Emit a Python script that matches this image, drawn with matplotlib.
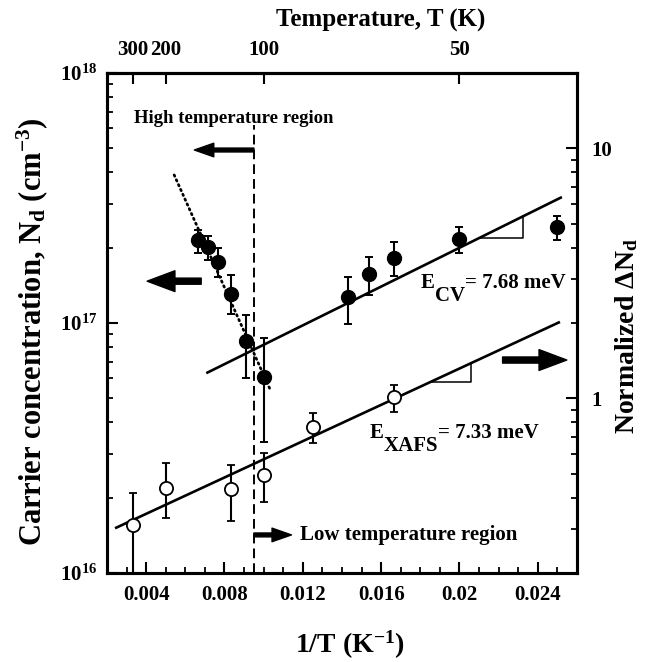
import numpy as np
import matplotlib
matplotlib.use("Agg")
import matplotlib.pyplot as plt
from matplotlib.ticker import FixedLocator, NullLocator, NullFormatter, LogLocator, MultipleLocator

plt.rcParams['font.family'] = 'Liberation Serif'
plt.rcParams['font.weight'] = 'bold'
plt.rcParams['axes.labelweight'] = 'bold'
plt.rcParams['mathtext.fontset'] = 'custom'
plt.rcParams['mathtext.rm'] = 'Liberation Serif:bold'
plt.rcParams['mathtext.it'] = 'Liberation Serif:bold'
plt.rcParams['mathtext.bf'] = 'Liberation Serif:bold'
plt.rcParams['mathtext.default'] = 'rm'

# C-V carrier concentration (filled circles, left axis)
inv_T_cv = [0.00667, 0.00714, 0.00769, 0.00833, 0.00909, 0.0100,
            0.01429, 0.01538, 0.01667, 0.0200, 0.0250]
Nd = [2.15e17, 2.01e17, 1.76e17, 1.31e17, 8.5e16, 6.1e16,
      1.27e17, 1.57e17, 1.82e17, 2.16e17, 2.43e17]
Nd_hi = [2.35e17, 2.23e17, 2.00e17, 1.56e17, 1.08e17, 8.7e16,
         1.53e17, 1.83e17, 2.10e17, 2.43e17, 2.69e17]
Nd_lo = [1.91e17, 1.79e17, 1.53e17, 1.09e17, 6.0e16, 3.34e16,
         9.9e16, 1.29e17, 1.54e17, 1.90e17, 2.15e17]

# XAFS normalized dNd (open circles, right axis)
inv_T_xafs = [0.00333, 0.0050, 0.00833, 0.0100, 0.0125, 0.01667]
dNd = [0.311, 0.439, 0.433, 0.493, 0.769, 1.01]
dNd_hi = [0.419, 0.549, 0.541, 0.602, 0.875, 1.13]
dNd_lo = [0.12, 0.331, 0.323, 0.383, 0.663, 0.88]

# fitted lines (end points)
cv_fit_x = [0.00707, 0.02523]
cv_fit_y = [6.3e16, 3.19e17]
xafs_fit_x = [0.00241, 0.02513]
xafs_fit_y = [0.302, 2.02]
high_T_x = [0.00543, 0.01038]
high_T_y = [3.91e17, 5.31e16]
boundary_x = 0.0095

T_ticks = [300, 200, 100, 50]


def fit_at(x, xs, ys):
    return 10 ** np.interp(x, xs, np.log10(ys))


fig = plt.figure(figsize=(6.55, 6.62), dpi=100)
ax = fig.add_axes([107 / 655, 1 - 573 / 662, 470 / 655, 500 / 662])
axr = ax.twinx()

ax.set_xlim(0.002, 0.026)
ax.set_yscale('log')
ax.set_ylim(1e16, 1e18)
axr.set_yscale('log')
axr.set_ylim(0.2, 20)

# lines
ax.plot(cv_fit_x, cv_fit_y, color='k', lw=1.9, solid_capstyle='butt')
ax.plot(high_T_x, high_T_y, color='k', lw=2, ls=(0, (0.5, 1.4)), dash_capstyle='round')
ax.plot([boundary_x, boundary_x], [1e16, 6.2e17], color='k', lw=1.4, ls=(0, (5, 2.6)))
axr.plot(xafs_fit_x, xafs_fit_y, color='k', lw=1.9, solid_capstyle='butt')

# slope triangles
x0, x1 = 0.02103, 0.02325
y0 = fit_at(x0, cv_fit_x, cv_fit_y)
ax.plot([x0, x1, x1], [y0, y0, fit_at(x1, cv_fit_x, cv_fit_y)], color='k', lw=1.1)
x0, x1 = 0.01848, 0.02061
y0 = fit_at(x0, xafs_fit_x, xafs_fit_y)
axr.plot([x0, x1, x1], [y0, y0, fit_at(x1, xafs_fit_x, xafs_fit_y)], color='k', lw=1.1)

# data points
Nd_a = np.array(Nd)
ax.errorbar(inv_T_cv, Nd, yerr=[Nd_a - np.array(Nd_lo), np.array(Nd_hi) - Nd_a],
            fmt='o', color='k', ms=10, elinewidth=1.5, capsize=2.6, capthick=1.4, zorder=5)
dNd_a = np.array(dNd)
axr.errorbar(inv_T_xafs, dNd, yerr=[dNd_a - np.array(dNd_lo), np.array(dNd_hi) - dNd_a],
             fmt='o', mfc='white', mec='k', color='k', ms=9.5, mew=1.3,
             elinewidth=1.5, capsize=2.6, capthick=1.4, zorder=5)

# arrows
big = dict(arrowstyle='simple,head_length=1.0,head_width=0.75,tail_width=0.22',
           color='k', shrinkA=0, shrinkB=0, mutation_scale=20)
small = dict(arrowstyle='simple,head_length=1.0,head_width=0.7,tail_width=0.2',
             color='k', shrinkA=0, shrinkB=0, mutation_scale=14)
ax.annotate('', xy=(0.00405, 1.47e17), xytext=(0.00681, 1.47e17), arrowprops=big)
ax.annotate('', xy=(0.02548, 7.11e16), xytext=(0.0222, 7.11e16), arrowprops=big)
ax.annotate('', xy=(0.00646, 4.92e17), xytext=(boundary_x, 4.92e17), arrowprops=small)
ax.annotate('', xy=(0.01142, 1.42e16), xytext=(boundary_x, 1.42e16), arrowprops=small)

# region labels
ax.text(0.00339, 6.6e17, 'High temperature region', fontsize=13.5, va='center', ha='left')
ax.text(0.01183, 1.42e16, 'Low temperature region', fontsize=15, va='center', ha='left')

# activation energies
def energy_label(x, y, sub, rest):
    t = ax.text(x, y, 'E', fontsize=15, va='baseline', ha='left')
    s = ax.annotate(sub, xy=(1, 0), xycoords=t, xytext=(0, -9.5), textcoords='offset points',
                    fontsize=15, va='bottom', ha='left')
    ax.annotate(rest, xy=(1, 0), xycoords=(s, t), fontsize=15, va='bottom', ha='left')

energy_label(0.01804, 1.38e17, 'CV', '= 7.68 meV')
energy_label(0.01541, 3.47e16, 'XAFS', '= 7.33 meV')

# ticks
ax.xaxis.set_major_locator(FixedLocator([0.004, 0.008, 0.012, 0.016, 0.02, 0.024]))
ax.set_xticklabels(['0.004', '0.008', '0.012', '0.016', '0.02', '0.024'])
ax.xaxis.set_minor_locator(MultipleLocator(0.001))
ax.yaxis.set_major_locator(LogLocator(base=10))
ax.yaxis.set_minor_locator(LogLocator(base=10, subs=np.arange(2, 10)))
ax.yaxis.set_minor_formatter(NullFormatter())
axr.yaxis.set_major_locator(FixedLocator([1, 10]))
axr.set_yticklabels(['1', '10'])
axr.yaxis.set_minor_locator(LogLocator(base=10, subs=np.arange(2, 10)))
axr.yaxis.set_minor_formatter(NullFormatter())

ax.tick_params(axis='both', which='major', direction='in', length=8, width=1.5, labelsize=15)
ax.tick_params(axis='both', which='minor', direction='in', length=4.5, width=1.3)
ax.tick_params(axis='x', which='major', pad=9)
ax.tick_params(axis='y', which='major', pad=7)
axr.tick_params(axis='y', which='major', direction='in', length=8, width=1.5, labelsize=15, pad=10)
axr.tick_params(axis='y', which='minor', direction='in', length=4.5, width=1.3)

top = ax.secondary_xaxis('top', functions=(lambda x: 1 / x, lambda T: 1 / T))
top.xaxis.set_major_locator(FixedLocator(T_ticks))
top.set_xticklabels([str(t) for t in T_ticks])
top.xaxis.set_minor_locator(NullLocator())
top.tick_params(direction='in', length=8, width=1.5, labelsize=15, pad=9)

for a in (ax, axr):
    for sp in a.spines.values():
        sp.set_linewidth(2.2)
top.spines['top'].set_linewidth(2.2)

# axis labels
ax.set_ylabel(r'Carrier concentration, N$_d$ (cm$^{-3}$)', fontsize=22, va='center')
ax.yaxis.set_label_coords((32 - 107) / 470, (573 - 332) / 500)
axr.set_ylabel(r'Normalized ΔN$_d$', fontsize=20, va='center', rotation=90)
axr.yaxis.set_label_coords((627 - 107) / 470, (573 - 336) / 500)
ax.set_xlabel(r'1/T (K$^{-1}$)', fontsize=20, va='center')
ax.xaxis.set_label_coords((350 - 107) / 470, (573 - 645) / 500)
fig.text(381 / 655, 1 - 20 / 662, 'Temperature, T (K)', fontsize=18, fontweight='bold',
         ha='center', va='center')

fig.savefig('out.png', dpi=100)
